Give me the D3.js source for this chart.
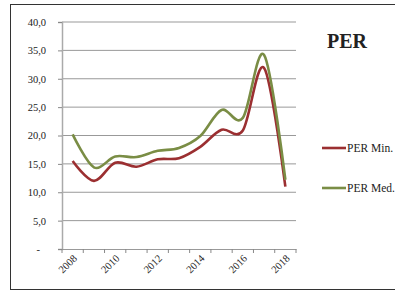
<!DOCTYPE html>
<html>
<head>
<meta charset="UTF-8">
<script src="https://d3js.org/d3.v7.min.js"></script>
<style>
  body { margin: 0; background: #fff; }
  text { font-family: "Liberation Serif", "DejaVu Serif", serif; fill: #222; }
</style>
</head>
<body>
<div class="canvas"></div>
<script>
  const years = ["2008","2009","2010","2011","2012","2013","2014","2015","2016","2017","2018"];
  const perMin = [15.5, 12.0, 15.2, 14.5, 15.8, 16.0, 18.0, 21.0, 20.9, 31.9, 11.0];
  const perMed = [20.2, 14.4, 16.3, 16.2, 17.3, 17.8, 19.9, 24.5, 23.1, 34.2, 12.2];
  const yTicks = [0, 5, 10, 15, 20, 25, 30, 35, 40];
  const yearLabels = ["2008","2010","2012","2014","2016","2018"];

  const series = [
    { name: "PER Min.", values: perMin, color: "#9b2f31" },
    { name: "PER Med.", values: perMed, color: "#7a8d45" }
  ];

  const svg = d3.select('.canvas').append('svg')
    .attr('width', 395).attr('height', 293);

  // outer frame
  svg.append('rect')
    .attr('x', 10.5).attr('y', 4.5).attr('width', 400).attr('height', 285)
    .attr('fill', 'none').attr('stroke', '#333').attr('stroke-width', 1);

  const x = d3.scaleBand().domain(years).range([62, 296]);
  const y = d3.scaleLinear().domain([0, 40]).range([249, 22]);

  // gridlines
  svg.append('g').selectAll('line')
    .data(yTicks.filter(d => d > 0))
    .enter().append('line')
    .attr('x1', 62).attr('x2', 296)
    .attr('y1', d => y(d)).attr('y2', d => y(d))
    .attr('stroke', '#999').attr('stroke-width', 1);

  // y axis
  const yAxis = svg.append('g').attr('transform', 'translate(62,0)')
    .call(d3.axisLeft(y).tickValues(yTicks).tickSize(4).tickPadding(12)
      .tickFormat(d => d === 0 ? '-' : d3.format('.1f')(d).replace('.', ',')));
  yAxis.select('.domain').attr('stroke', '#aaa').attr('stroke-width', 1.5);
  yAxis.selectAll('.tick line').attr('stroke', '#888');
  yAxis.selectAll('text').style('font-size', '10.5px').attr('fill', '#333');
  yAxis.selectAll('.tick').filter(d => d === 0).select('text').attr('x', -22);

  // x axis
  const xAxis = svg.append('g').attr('transform', 'translate(0,249)')
    .call(d3.axisBottom(x).tickSize(0).tickFormat(d => yearLabels.includes(d) ? d : ''));
  xAxis.select('.domain').attr('stroke', '#999').attr('stroke-width', 1);
  xAxis.selectAll('text')
    .style('font-size', '10.5px').attr('fill', '#333')
    .attr('text-anchor', 'end')
    .attr('dy', 0).attr('y', 0)
    .attr('transform', 'translate(5,10) rotate(-45)');
  // ticks at band edges
  svg.append('g').selectAll('line')
    .data(years.concat(['end']))
    .enter().append('line')
    .attr('x1', (d, i) => 62 + i * x.step()).attr('x2', (d, i) => 62 + i * x.step())
    .attr('y1', 249).attr('y2', 253)
    .attr('stroke', '#888');

  const line = d3.line()
    .x((d, i) => x(years[i]) + x.bandwidth() / 2)
    .y(d => y(d))
    .curve(d3.curveCardinal);

  svg.append('g').selectAll('path')
    .data(series)
    .enter().append('path')
    .attr('d', d => line(d.values))
    .attr('fill', 'none')
    .attr('stroke', d => d.color)
    .attr('stroke-width', 2.6);

  // title
  svg.append('text')
    .attr('x', 347).attr('y', 48)
    .attr('text-anchor', 'middle')
    .style('font-size', '20px').style('font-weight', 'bold')
    .attr('fill', '#000')
    .text('PER');

  // legend
  const leg = svg.append('g').selectAll('g')
    .data(series).enter().append('g')
    .attr('transform', (d, i) => `translate(322,${148 + i * 40})`);
  leg.append('line').attr('x1', 0).attr('x2', 24).attr('y1', 0).attr('y2', 0)
    .attr('stroke', d => d.color).attr('stroke-width', 2.6);
  leg.append('text').attr('x', 25).attr('y', 3.5)
    .style('font-size', '11.5px').attr('fill', '#222')
    .text(d => d.name);
</script>
</body>
</html>
